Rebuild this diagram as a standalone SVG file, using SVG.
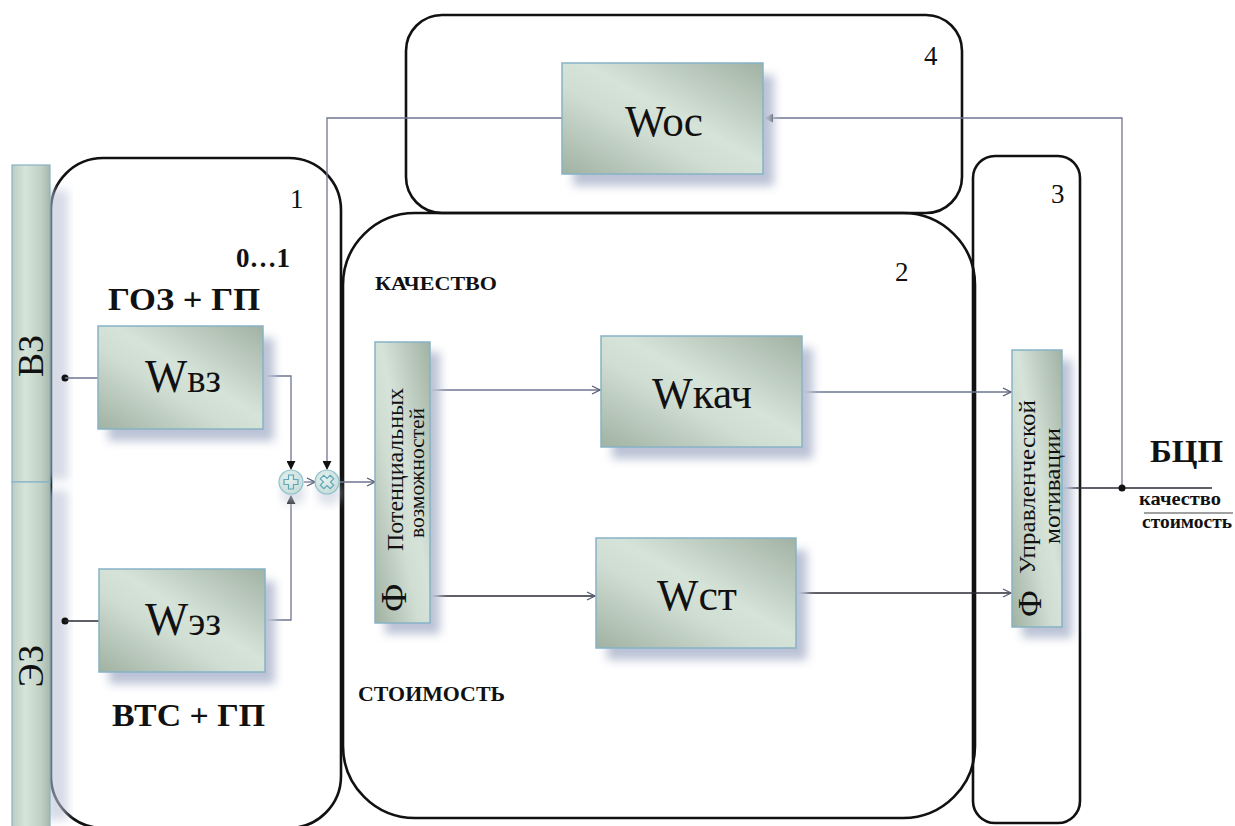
<svg xmlns="http://www.w3.org/2000/svg" width="1235" height="826" viewBox="0 0 1235 826">
<style>
.region{fill:none;stroke:#111;stroke-width:2.6}
.box{fill:url(#boxg);stroke:#86b3c6;stroke-width:1.5}
.bar{fill:url(#barg);stroke:#86b3c6;stroke-width:1.2}
.shadow{fill:#bcc3d6;filter:url(#blur)}
.conn{fill:none;stroke:#6f7590;stroke-width:1.3}
.dark{stroke:#2a2a35}
.t{font-family:"Liberation Serif","Times New Roman",serif;fill:#111}
.b{font-weight:bold}
.w{font-size:44px}
</style>
<defs>
<linearGradient id="boxg" x1="0" y1="1" x2="1" y2="0">
<stop offset="0" stop-color="#a0b2a2"/>
<stop offset="0.4" stop-color="#d0ddd3"/>
<stop offset="0.55" stop-color="#d6e3d9"/>
<stop offset="1" stop-color="#a1b2a3"/>
</linearGradient>
<linearGradient id="barg" x1="0" y1="0" x2="1" y2="0">
<stop offset="0" stop-color="#bccdc0"/>
<stop offset="0.35" stop-color="#d6e4da"/>
<stop offset="0.75" stop-color="#c1d1c5"/>
<stop offset="1" stop-color="#a8b8aa"/>
</linearGradient>
<radialGradient id="circg" cx="0.4" cy="0.35" r="0.7">
<stop offset="0" stop-color="#e6f1ef"/>
<stop offset="1" stop-color="#c5dcd8"/>
</radialGradient>
<filter id="blur" x="-20%" y="-20%" width="140%" height="140%"><feGaussianBlur stdDeviation="5"/></filter>
<marker id="open" viewBox="0 0 10 10" refX="9" refY="5" markerWidth="10" markerHeight="10" markerUnits="userSpaceOnUse" orient="auto">
<path d="M1,1 L9,5 L1,9" fill="none" stroke="#555a70" stroke-width="1.2"/>
</marker>
<marker id="fill" viewBox="0 0 10 10" refX="9" refY="5" markerWidth="9" markerHeight="9" markerUnits="userSpaceOnUse" orient="auto">
<path d="M0,0 L10,5 L0,10 Z" fill="#111"/>
</marker>
</defs>
<rect width="1235" height="826" fill="#fff"/>

<!-- regions -->
<g id="region1"><rect class="region" x="51" y="158" width="290" height="670" rx="52"/><text class="t" x="290" y="208" font-size="27">1</text></g>
<g id="region2"><rect class="region" x="343" y="213" width="632" height="605" rx="72"/><text class="t" x="895" y="281" font-size="27">2</text></g>
<g id="region3"><rect class="region" x="973" y="156" width="107" height="667" rx="22"/><text class="t" x="1051" y="203" font-size="27">3</text></g>
<g id="region4"><rect class="region" x="406" y="15" width="556" height="198" rx="36"/><text class="t" x="924" y="65" font-size="27">4</text></g>

<!-- left bars -->
<g id="bar-vz">
<rect class="shadow" x="46" y="190" width="22" height="290" opacity="0.6"/>
<rect class="bar" x="12" y="165" width="38" height="317"/>
<text class="t" font-size="36" text-anchor="middle" transform="translate(43,356) rotate(-90)">ВЗ</text>
</g>
<g id="bar-ez">
<rect class="shadow" x="46" y="490" width="22" height="330" opacity="0.6"/>
<rect class="bar" x="12" y="482" width="38" height="350"/>
<text class="t" font-size="36" text-anchor="middle" transform="translate(43,666) rotate(-90)">ЭЗ</text>
</g>

<!-- static labels -->
<text class="t b" x="236" y="267" font-size="27">0…1</text>
<text class="t b" x="108" y="310" font-size="32" textLength="152" lengthAdjust="spacingAndGlyphs">ГОЗ + ГП</text>
<text class="t b" x="112" y="726" font-size="32" textLength="153" lengthAdjust="spacingAndGlyphs">ВТС + ГП</text>
<text class="t b" x="375" y="290" font-size="18" textLength="122" lengthAdjust="spacingAndGlyphs">КАЧЕСТВО</text>
<text class="t b" x="358" y="701" font-size="21" textLength="147" lengthAdjust="spacingAndGlyphs">СТОИМОСТЬ</text>
<text class="t b" x="1150" y="462" font-size="32" textLength="73" lengthAdjust="spacingAndGlyphs">БЦП</text>
<text class="t b" x="1139" y="505" font-size="19" textLength="82" lengthAdjust="spacingAndGlyphs">качество</text>
<line x1="1144" y1="513" x2="1233" y2="513" stroke="#444" stroke-width="1.2"/>
<text class="t b" x="1142" y="528" font-size="19" textLength="90" lengthAdjust="spacingAndGlyphs">стоимость</text>

<!-- connectors -->
<g id="connectors">
<circle cx="65" cy="378" r="3.5" fill="#111"/>
<path class="conn" d="M65,378 H98"/>
<circle cx="65" cy="621" r="3.5" fill="#111"/>
<path class="conn dark" d="M65,621 H99"/>
<path class="conn" d="M263,376 H291 V469" marker-end="url(#fill)"/>
<path class="conn" d="M265,620 H291 V496" marker-end="url(#fill)"/>
<path class="conn" d="M304,482 H315" marker-end="url(#open)"/>
<path class="conn" d="M562,118 H327 V469" marker-end="url(#fill)"/>
<path class="conn" d="M340,482 H375" marker-end="url(#open)"/>
<path class="conn" d="M430,390 H600" marker-end="url(#open)"/>
<path class="conn dark" d="M430,596 H595" marker-end="url(#open)"/>
<path class="conn" d="M802,392 H1011" marker-end="url(#open)"/>
<path class="conn dark" d="M796,593 H1011" marker-end="url(#open)"/>
<path class="conn dark" d="M1062,488 H1212"/>
<path class="conn" d="M1122,488 V118 H765" marker-end="url(#fill)"/>
<circle cx="1122" cy="488" r="3.5" fill="#111"/>
</g>

<!-- summing junctions -->
<g id="sum-plus">
<circle cx="293" cy="493" r="12" fill="#c7ccda" opacity="0.6" filter="url(#blur)"/>
<circle cx="291" cy="482" r="12" fill="url(#circg)" stroke="#8fc2cc" stroke-width="1.2"/>
<path d="M288.5,475 h5 v4.5 h4.5 v5 h-4.5 v4.5 h-5 v-4.5 h-4.5 v-5 h4.5 Z" fill="none" stroke="#5fa6b8" stroke-width="1.2"/>
</g>
<g id="sum-mult">
<circle cx="329" cy="493" r="12" fill="#c7ccda" opacity="0.6" filter="url(#blur)"/>
<circle cx="327" cy="482" r="12" fill="url(#circg)" stroke="#8fc2cc" stroke-width="1.2"/>
<path transform="rotate(45 327 482)" d="M324.5,475 h5 v4.5 h4.5 v5 h-4.5 v4.5 h-5 v-4.5 h-4.5 v-5 h4.5 Z" fill="none" stroke="#5fa6b8" stroke-width="1.2"/>
</g>

<!-- blocks -->
<g id="W-vz">
<rect class="shadow" x="108" y="338" width="166" height="103"/>
<rect class="box" x="98" y="326" width="165" height="103"/>
<text class="t" x="145" y="392" textLength="76" lengthAdjust="spacingAndGlyphs"><tspan font-size="46">W</tspan><tspan font-size="40">вз</tspan></text>
</g>
<g id="W-ez">
<rect class="shadow" x="109" y="581" width="166" height="103"/>
<rect class="box" x="99" y="569" width="166" height="103"/>
<text class="t" x="145" y="635" textLength="76" lengthAdjust="spacingAndGlyphs"><tspan font-size="46">W</tspan><tspan font-size="40">эз</tspan></text>
</g>
<g id="W-oc">
<rect class="shadow" x="573" y="75" width="201" height="111"/>
<rect class="box" x="562" y="63" width="201" height="111"/>
<text class="t w" x="625" y="136" textLength="78" lengthAdjust="spacingAndGlyphs">Woc</text>
</g>
<g id="W-kach">
<rect class="shadow" x="612" y="348" width="201" height="111"/>
<rect class="box" x="601" y="336" width="201" height="111"/>
<text class="t w" x="652" y="408" textLength="100" lengthAdjust="spacingAndGlyphs">Wкач</text>
</g>
<g id="W-st">
<rect class="shadow" x="607" y="550" width="200" height="110"/>
<rect class="box" x="596" y="538" width="200" height="110"/>
<text class="t w" x="657" y="610" textLength="80" lengthAdjust="spacingAndGlyphs">Wст</text>
</g>
<g id="F-potential">
<rect class="shadow" x="385" y="352" width="55" height="282"/>
<rect class="box" x="375" y="342" width="55" height="281"/>
<text class="t" font-size="36" transform="translate(406,612) rotate(-90)">Ф</text>
<text class="t" font-size="23" transform="translate(403,551) rotate(-90)" textLength="163" lengthAdjust="spacingAndGlyphs">Потенциальных</text>
<text class="t" font-size="22" transform="translate(424,538) rotate(-90)" textLength="130" lengthAdjust="spacingAndGlyphs">возможностей</text>
</g>
<g id="F-motivation">
<rect class="shadow" x="1022" y="360" width="50" height="278"/>
<rect class="box" x="1012" y="350" width="50" height="277"/>
<text class="t" font-size="34" transform="translate(1041,617) rotate(-90)">Ф</text>
<text class="t" font-size="23" transform="translate(1035,574) rotate(-90)" textLength="174" lengthAdjust="spacingAndGlyphs">Управленческой</text>
<text class="t" font-size="23" transform="translate(1060,544) rotate(-90)" textLength="116" lengthAdjust="spacingAndGlyphs">мотивации</text>
</g>
</svg>
